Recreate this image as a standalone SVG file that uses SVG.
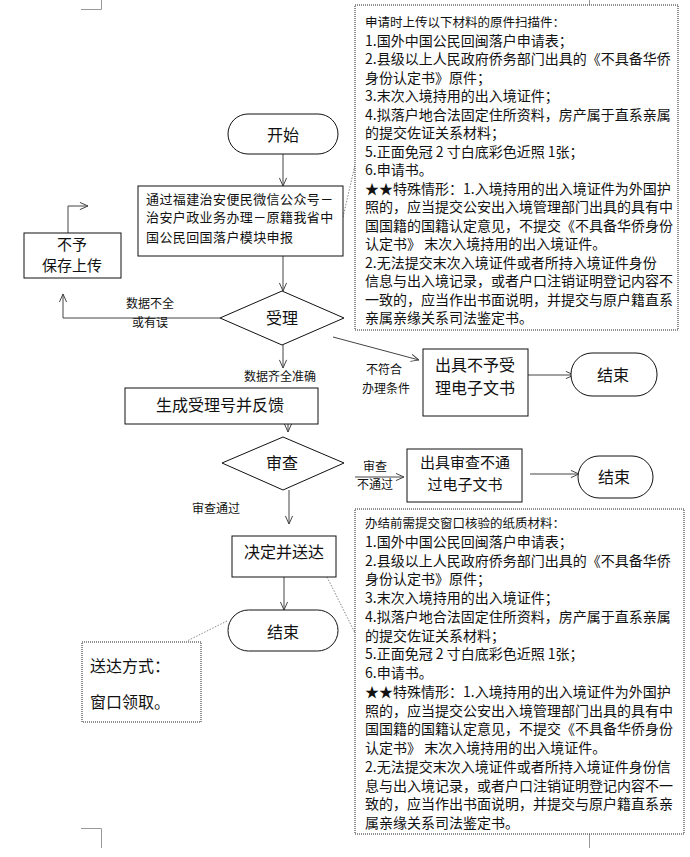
<svg xmlns="http://www.w3.org/2000/svg" width="690" height="857" viewBox="0 0 690 857">
<defs>
<style>
text{font-family:"Noto Sans CJK SC","Noto Sans",sans-serif;fill:#111;}
.box{fill:#fff;stroke:#111;stroke-width:1;}
.note{fill:#fff;stroke:#222;stroke-width:1;stroke-dasharray:1 1;}
.t16{font-size:16px;}
.t15{font-size:15px;}
.t14{font-size:14px;}
.t13{font-size:13px;}
.t12{font-size:12px;}
.t12h{font-size:12.5px;}
.c{text-anchor:middle;}
.arrow{fill:none;stroke:#444;stroke-width:1;marker-end:url(#ah);}
.line{fill:none;stroke:#444;stroke-width:1;}
.dot{fill:none;stroke:#888;stroke-width:1;stroke-dasharray:1.5 1.5;}
.crop{fill:none;stroke:#999;stroke-width:1;}
</style>
<marker id="ah" viewBox="0 0 10 10" refX="10" refY="5" markerWidth="9" markerHeight="9" markerUnits="userSpaceOnUse" orient="auto">
<path d="M1,1 L10,5 L1,9" fill="none" stroke="#444" stroke-width="1.1"/>
</marker>
</defs>
<rect width="690" height="857" fill="#fff"/>

<g id="crop-marks">
<path class="crop" d="M81,9.5 H101.5 V0"/>
<path class="crop" d="M81,828.5 H101.5 V848"/>
<path class="crop" d="M589.5,0 V9"/>
<path class="crop" d="M589.5,834 V848"/>
</g>

<g id="connectors">
<line class="arrow" x1="283" y1="154" x2="283" y2="186"/>
<line class="arrow" x1="283" y1="228" x2="283" y2="291"/>
<polyline class="arrow" points="220,318 63,318 63,294"/>
<polyline class="arrow" points="68,233 68,206 88,206"/>
<line class="arrow" x1="283" y1="345" x2="283" y2="368"/>
<line class="arrow" x1="333" y1="337" x2="419" y2="360"/>
<line class="arrow" x1="528" y1="375" x2="574" y2="375"/>
<line class="arrow" x1="288" y1="400" x2="288" y2="432"/>
<line class="arrow" x1="355" y1="477" x2="404" y2="477"/>
<line class="arrow" x1="530" y1="474" x2="579" y2="474"/>
<line class="arrow" x1="289" y1="490" x2="289" y2="524"/>
<line class="arrow" x1="284" y1="572" x2="284" y2="610"/>
<line class="dot" x1="343" y1="217" x2="355" y2="165"/>
<line class="dot" x1="327" y1="577" x2="355" y2="633"/>
<line class="dot" x1="227" y1="621" x2="187" y2="641"/>
<text class="t12 c" x="150" y="308">数据不全</text>
<text class="t12 c" x="150" y="327">或有误</text>
<text class="t12 c" x="280" y="381">数据齐全准确</text>
<text class="t12 c" x="384" y="374">不符合</text>
<text class="t12 c" x="386" y="393">办理条件</text>
<text class="t12 c" x="375" y="471">审查</text>
<text class="t12 c" x="375" y="489">不通过</text>
<text class="t12 c" x="216" y="513">审查通过</text>
</g>

<g id="node-start">
<rect class="box" x="228" y="114" width="110" height="40" rx="20"/>
<text class="t16 c" x="283" y="141">开始</text>
</g>

<g id="node-apply">
<rect class="box" x="138" y="186" width="205" height="70"/>
<text class="t13" x="146" y="204" letter-spacing="0.4">通过福建治安便民微信公众号－</text>
<text class="t13" x="146" y="222" letter-spacing="0.4">治安户政业务办理－原籍我省中</text>
<text class="t13" x="146" y="242" letter-spacing="0.4">国公民回国落户模块申报</text>
</g>

<g id="node-reject-save">
<rect class="box" x="24" y="233" width="97" height="45"/>
<text class="t15 c" x="72" y="250">不予</text>
<text class="t15 c" x="72" y="271">保存上传</text>
</g>

<g id="node-accept">
<polygon class="box" points="282,291 344,318 282,345 220,318"/>
<text class="t16 c" x="282" y="324">受理</text>
</g>

<g id="node-not-accept-doc">
<rect class="box" x="423" y="349" width="105" height="67"/>
<text class="t16 c" x="475" y="371">出具不予受</text>
<text class="t16 c" x="475" y="394">理电子文书</text>
</g>

<g id="node-end1">
<rect class="box" x="571" y="353" width="86" height="43" rx="21"/>
<text class="t16 c" x="613" y="381">结束</text>
</g>

<g id="node-gen-no">
<rect class="box" x="125" y="388" width="193" height="36"/>
<text class="t16 c" x="220" y="411">生成受理号并反馈</text>
</g>

<g id="node-review">
<polygon class="box" points="283,437 344,463 283,490 222,463"/>
<text class="t16 c" x="282" y="469">审查</text>
</g>

<g id="node-review-fail-doc">
<rect class="box" x="407" y="449" width="115" height="53"/>
<text class="t15 c" x="465" y="468">出具审查不通</text>
<text class="t15 c" x="465" y="490">过电子文书</text>
</g>

<g id="node-end2">
<rect class="box" x="578" y="456" width="75" height="42" rx="21"/>
<text class="t16 c" x="614" y="483">结束</text>
</g>

<g id="node-decide">
<rect class="box" x="232" y="536" width="104" height="41"/>
<text class="t16 c" x="284" y="558">决定并送达</text>
</g>

<g id="node-end3">
<rect class="box" x="228" y="610" width="110" height="41" rx="20.5"/>
<text class="t16 c" x="283" y="638">结束</text>
</g>

<g id="note-delivery">
<rect class="note" x="82" y="642" width="119" height="80"/>
<text class="t16" x="90" y="672">送达方式：</text>
<text class="t16" x="90" y="708">窗口领取。</text>
</g>

<g id="note-upload">
<rect class="note" x="355" y="5" width="323" height="325"/>
<text class="t12h" x="365" y="26.5">申请时上传以下材料的原件扫描件：</text>
<text class="t14" x="365" y="45.5">1.国外中国公民回闽落户申请表；</text>
<text class="t14" x="365" y="64">2.县级以上人民政府侨务部门出具的《不具备华侨</text>
<text class="t14" x="365" y="82.5">身份认定书》原件；</text>
<text class="t14" x="365" y="101">3.末次入境持用的出入境证件；</text>
<text class="t14" x="365" y="119.5">4.拟落户地合法固定住所资料，房产属于直系亲属</text>
<text class="t14" x="365" y="138">的提交佐证关系材料；</text>
<text class="t14" x="365" y="156.5">5.正面免冠 2 寸白底彩色近照 1张；</text>
<text class="t14" x="365" y="175">6.申请书。</text>
<text class="t14" x="365" y="193.5">★★特殊情形：1.入境持用的出入境证件为外国护</text>
<text class="t14" x="365" y="212">照的，应当提交公安出入境管理部门出具的具有中</text>
<text class="t14" x="365" y="230.5">国国籍的国籍认定意见，不提交《不具备华侨身份</text>
<text class="t14" x="365" y="249">认定书》 末次入境持用的出入境证件。</text>
<text class="t14" x="365" y="267.5">2.无法提交末次入境证件或者所持入境证件身份</text>
<text class="t14" x="365" y="286">信息与出入境记录，或者户口注销证明登记内容不</text>
<text class="t14" x="365" y="304.5">一致的，应当作出书面说明，并提交与原户籍直系</text>
<text class="t14" x="365" y="323">亲属亲缘关系司法鉴定书。</text>
</g>

<g id="note-paper">
<rect class="note" x="355" y="509" width="329" height="325"/>
<text class="t12h" x="365" y="527.5">办结前需提交窗口核验的纸质材料：</text>
<text class="t14" x="365" y="546.75">1.国外中国公民回闽落户申请表；</text>
<text class="t14" x="365" y="565.5">2.县级以上人民政府侨务部门出具的《不具备华侨</text>
<text class="t14" x="365" y="584.25">身份认定书》原件；</text>
<text class="t14" x="365" y="603">3.末次入境持用的出入境证件；</text>
<text class="t14" x="365" y="621.75">4.拟落户地合法固定住所资料，房产属于直系亲属</text>
<text class="t14" x="365" y="640.5">的提交佐证关系材料；</text>
<text class="t14" x="365" y="659.25">5.正面免冠 2 寸白底彩色近照 1张；</text>
<text class="t14" x="365" y="678">6.申请书。</text>
<text class="t14" x="365" y="696.75">★★特殊情形：1.入境持用的出入境证件为外国护</text>
<text class="t14" x="365" y="715.5">照的，应当提交公安出入境管理部门出具的具有中</text>
<text class="t14" x="365" y="734.25">国国籍的国籍认定意见，不提交《不具备华侨身份</text>
<text class="t14" x="365" y="753">认定书》 末次入境持用的出入境证件。</text>
<text class="t14" x="365" y="771.75">2.无法提交末次入境证件或者所持入境证件身份信</text>
<text class="t14" x="365" y="790.5">息与出入境记录，或者户口注销证明登记内容不一</text>
<text class="t14" x="365" y="809.25">致的，应当作出书面说明，并提交与原户籍直系亲</text>
<text class="t14" x="365" y="828">属亲缘关系司法鉴定书。</text>
</g>
</svg>
